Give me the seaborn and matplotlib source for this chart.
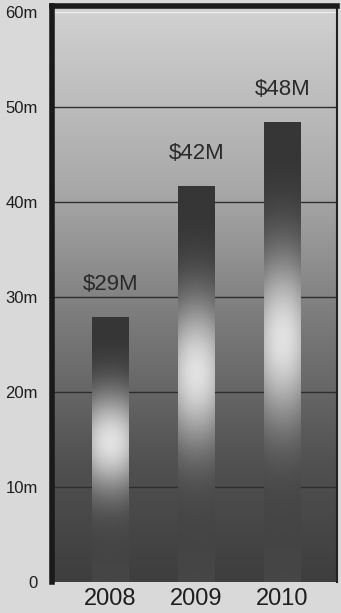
import numpy as np
import pandas as pd
import seaborn as sns
import matplotlib.pyplot as plt
import matplotlib.colors as mcolors

# data
years = ["2008", "2009", "2010"]
revenue = [27.9, 41.7, 48.4]          # bar heights, millions
value_labels = ["$29M", "$42M", "$48M"]
y_ticks = [0, 10, 20, 30, 40, 50, 60]
y_tick_labels = ["0", "10m", "20m", "30m", "40m", "50m", "60m"]

df = pd.DataFrame({"year": years, "revenue": revenue})

sns.set_theme(style="white")
plt.rcParams["font.family"] = ["Liberation Sans Narrow", "Liberation Sans", "DejaVu Sans"]

fig = plt.figure(figsize=(3.41, 6.13), dpi=100, facecolor="#d9d9d9")
ax = fig.add_axes([0.152, 0.0506, 0.836, 0.9394])

# background gradient of the plot area (light at top, dark at bottom)
grey = mcolors.LinearSegmentedColormap.from_list(
    "g", [(0, "#3e3e3e"), (0.2, "#505050"), (0.45, "#7a7a7a"), (0.68, "#a8a8a8"), (1, "#d2d2d2")])
bg = np.linspace(0, 1, 256).reshape(-1, 1)
ax.imshow(bg, cmap=grey, aspect="auto", origin="lower", extent=[0, 1, 0, 1],
          transform=ax.transAxes, zorder=0, interpolation="bicubic")

sns.barplot(data=df, x="year", y="revenue", width=0.425, color="#333333",
            saturation=1, linewidth=0, ax=ax, zorder=2)

# glossy highlight on each bar
bar_cmap = mcolors.LinearSegmentedColormap.from_list("b", ["#363636", "#ececec"])
for patch in ax.patches:
    x0, w, h = patch.get_x(), patch.get_width(), patch.get_height()
    t = np.linspace(0, 1, 200).reshape(-1, 1)   # 0 bottom, 1 top
    xs = np.linspace(-1, 1, 40).reshape(1, -1)
    g = np.exp(-((t - 0.53) / 0.19) ** 2) * (1 - 0.2 * xs ** 2) - 0.12 * t
    im = ax.imshow(g, cmap=bar_cmap, vmin=-0.1, vmax=1, aspect="auto", origin="lower",
                   extent=[x0, x0 + w, 0, h], zorder=3, interpolation="bicubic")
    im.set_clip_path(patch)

for i, lab in enumerate(value_labels):
    ax.text(i, revenue[i] + 2.3, lab, ha="center", va="bottom", fontsize=16,
            color="#2a2a2a", zorder=5)

ax.set_xlim(-0.678, 2.63)
ax.set_ylim(0, 60.6)
ax.set_yticks(y_ticks)
ax.set_yticklabels(y_tick_labels)
ax.set_xlabel("")
ax.set_ylabel("")
for y in y_ticks[1:-1]:
    ax.axhline(y, color="#2e2e2e", lw=1, zorder=1)
ax.axhline(60, color="#eeeeee", lw=1, zorder=1)

ax.tick_params(axis="y", length=0, pad=10, labelsize=12, labelcolor="#1e1e1e")
ax.tick_params(axis="x", length=0, pad=4, labelsize=17, labelcolor="#1e1e1e")

for side in ["left", "top"]:
    ax.spines[side].set_color("#1a1a1a")
    ax.spines[side].set_linewidth(4)
ax.spines["right"].set_color("#222222")
ax.spines["right"].set_linewidth(1.5)
ax.spines["bottom"].set_visible(False)

fig.savefig("out.png", dpi=100, facecolor=fig.get_facecolor())
